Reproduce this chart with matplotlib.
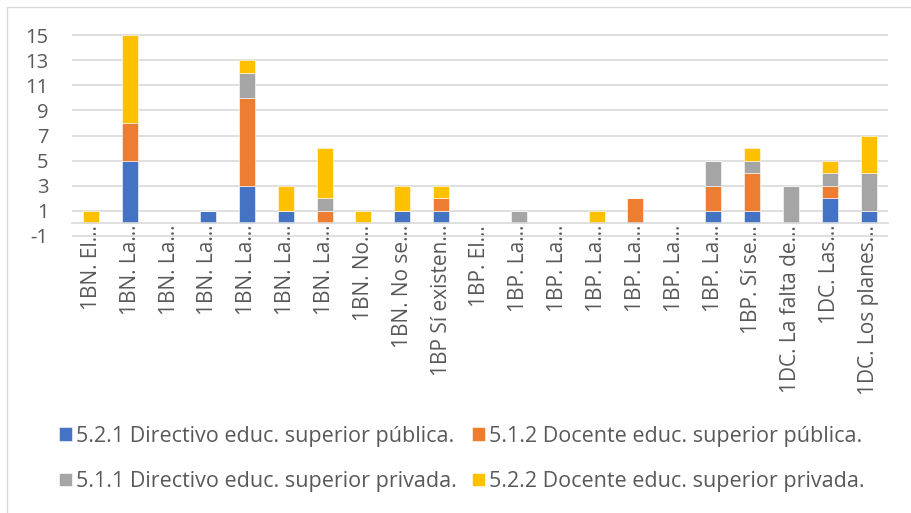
import matplotlib.pyplot as plt
from matplotlib.patches import Rectangle
import numpy as np

categories = ["1BN. El…", "1BN. La…", "1BN. La…", "1BN. La…", "1BN. La…",
              "1BN. La…", "1BN. La…", "1BN. No…", "1BN. No se…",
              "1BP Sí existen…", "1BP. El…", "1BP. La…", "1BP. La…",
              "1BP. La…", "1BP. La…", "1BP. La…", "1BP. La…", "1BP. Sí se…",
              "1DC. La falta de…", "1DC. Las…", "1DC. Los planes…"]

dir_publica = [0, 5, 0, 1, 3, 1, 0, 0, 1, 1, 0, 0, 0, 0, 0, 0, 1, 1, 0, 2, 1]
doc_publica = [0, 3, 0, 0, 7, 0, 1, 0, 0, 1, 0, 0, 0, 0, 2, 0, 2, 3, 0, 1, 0]
dir_privada = [0, 0, 0, 0, 2, 0, 1, 0, 0, 0, 0, 1, 0, 0, 0, 0, 2, 1, 3, 1, 3]
doc_privada = [1, 7, 0, 0, 1, 2, 4, 1, 2, 1, 0, 0, 0, 1, 0, 0, 0, 1, 0, 1, 3]

series_labels = ["5.2.1 Directivo educ. superior pública.",
                 "5.1.2 Docente educ. superior pública.",
                 "5.1.1 Directivo educ. superior privada.",
                 "5.2.2 Docente educ. superior privada."]
yticks = [-1, 1, 3, 5, 7, 9, 11, 13, 15]

colors = ["#4472C4", "#ED7D31", "#A5A5A5", "#FFC000"]
text_color = "#595959"
grid_color = "#D9D9D9"

plt.rcParams['font.family'] = ['Open Sans', 'DejaVu Sans']

fig = plt.figure(figsize=(9.11, 5.13), dpi=100)
ax = fig.add_axes([72 / 911, 1 - 237 / 513, 816 / 911, (237 - 34) / 513])

x = np.arange(len(categories))
bottom = np.zeros(len(categories))
bars = []
for vals, col in zip([dir_publica, doc_publica, dir_privada, doc_privada], colors):
    b = ax.bar(x, vals, width=0.41, bottom=bottom, color=col,
               edgecolor="white", linewidth=0.4, zorder=2)
    bars.append(b)
    bottom += np.array(vals)

ax.set_xlim(-0.5, len(categories) - 0.5)
ax.set_ylim(-1.08, 15.08)
ax.yaxis.grid(True, color=grid_color, linewidth=1.2)
ax.set_axisbelow(True)

# category axis crosses at 0, labels sit right under it
ax.spines["bottom"].set_position(("data", 0))
ax.spines["bottom"].set_color(grid_color)
ax.spines["bottom"].set_linewidth(1.2)
for s in ["top", "right", "left"]:
    ax.spines[s].set_visible(False)

ax.set_yticks(yticks)
ax.set_yticklabels([str(v) for v in yticks])
ax.set_xticks(x)
ax.set_xticklabels(categories)
ax.tick_params(axis="x", length=0, pad=1, labelsize=15, labelcolor=text_color,
               labelrotation=90)
ax.tick_params(axis="y", length=0, pad=17, labelsize=14.5, labelcolor=text_color)
plt.setp(ax.get_xticklabels(), ha="center", va="top")

# legend: rows are (blue, orange) and (gray, yellow)
order = [0, 2, 1, 3]
fig.legend([bars[i] for i in order], [series_labels[i] for i in order],
           ncol=2, loc="center", bbox_to_anchor=(462 / 911, 1 - 459 / 513),
           frameon=False, fontsize=15.5, labelcolor=text_color,
           handlelength=0.6, handleheight=0.6, handletextpad=0.2,
           columnspacing=0.7, labelspacing=1.13)

# light chart-area border (only top and left visible in the crop)
fig.patches.append(Rectangle((7 / 911, -0.1), 1.2, 1.1 - 7 / 513,
                             transform=fig.transFigure, fill=False,
                             edgecolor=grid_color, linewidth=1.0))

plt.savefig("out.png", dpi=100)
